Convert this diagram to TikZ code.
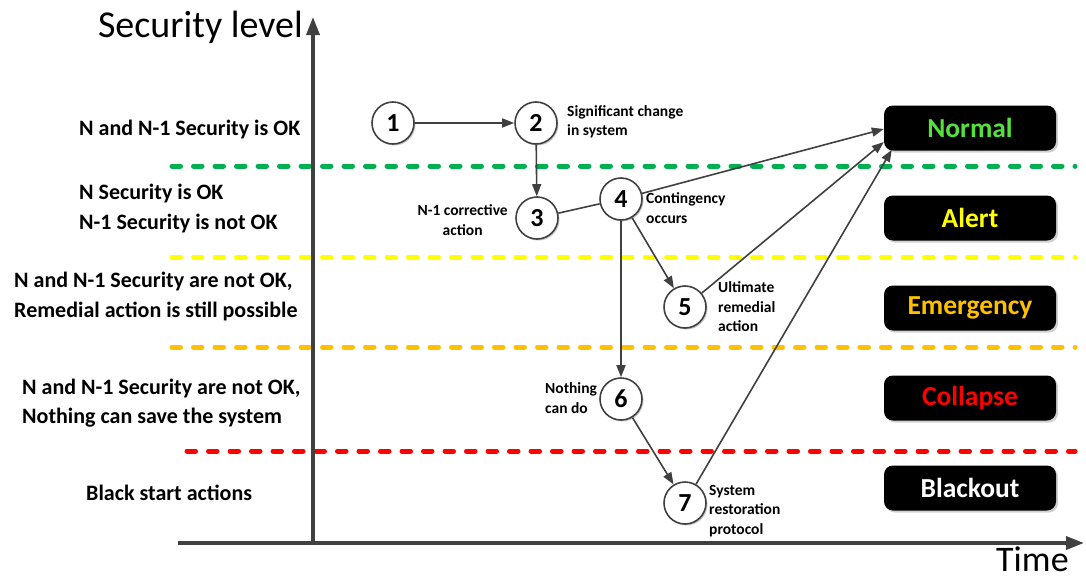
\documentclass[tikz,border=0pt]{standalone}
\usepackage{fontspec}
\setmainfont{Carlito}
\usetikzlibrary{arrows.meta,shadows,calc}
\definecolor{ln}{RGB}{64,64,64}
\definecolor{dgreen}{RGB}{0,176,80}
\definecolor{dyellow}{RGB}{255,255,0}
\definecolor{dorange}{RGB}{255,192,0}
\definecolor{dred}{RGB}{255,0,0}
\definecolor{tgreen}{RGB}{85,225,60}
\tikzset{
  statecirc/.style={circle,draw=ln,line width=1.6pt,fill=white,minimum size=42pt,inner sep=0pt,
    font=\fontsize{26}{28}\selectfont\bfseries,
    drop shadow={shadow xshift=1.5pt,shadow yshift=-1.5pt,fill=black!35,opacity=0.6}},
  statebox/.style={rounded corners=9pt,fill=black,minimum width=172pt,minimum height=45pt,
    font=\fontsize{27.5}{29}\selectfont\bfseries,
    drop shadow={shadow xshift=2pt,shadow yshift=-2pt,fill=black!30,opacity=0.6}},
  conn/.style={draw=ln,line width=1.6pt},
  arr/.style={conn,-{Triangle[length=12pt,width=9pt]}},
  axis/.style={draw=ln,line width=3.5pt},
  level/.style={line width=5pt,line cap=round,dash pattern=on 8.5pt off 13pt},
  lefttxt/.style={anchor=west,align=left,font=\fontsize{22}{30}\selectfont\bfseries,inner sep=0pt},
  smalltxt/.style={align=left,font=\fontsize{15.5}{19.5}\selectfont\bfseries,inner sep=0pt},
}
\begin{document}
\begin{tikzpicture}[x=1pt,y=-1pt]
\useasboundingbox (0,0) rectangle (1086,581);
% level lines
\draw[level,draw=dgreen] (172,166) -- (1075,166);
\draw[level,draw=dyellow] (172,257) -- (1075,257);
\draw[level,draw=dorange] (172,347) -- (1075,347);
\draw[level,draw=dred] (187,451) -- (1075,451);
% axes
\coordinate (yb) at (313,543);
\coordinate (yt) at (313,17);
\coordinate (xl) at (178,543);
\coordinate (xr) at (1084,543);
\draw[axis,-{Triangle[length=18pt,width=13pt]}] (yb) -- (yt);
\draw[axis,-{Triangle[length=18pt,width=13pt]}] (xl) -- (xr);
\node[anchor=east,inner sep=0pt,font=\fontsize{38}{40}\selectfont] (ylab) at (303,27) {Security level};
\node[anchor=west,inner sep=0pt,font=\fontsize{36}{40}\selectfont] (xlab) at (996,559) {Time};
% left labels
\node[lefttxt] (l1) at (79,130) {N and N-1 Security is OK};
\node[lefttxt] (l2) at (79,209) {N Security is OK\\N-1 Security is not OK};
\node[lefttxt] (l3) at (14,297) {N and N-1 Security are not OK,\\Remedial action is still possible};
\node[lefttxt,font=\fontsize{22}{28.5}\selectfont\bfseries] (l4) at (22,403) {N and N-1 Security are not OK,\\Nothing can save the system};
\node[lefttxt] (l5) at (86,493) {Black start actions};
% state boxes
\node[statebox,text=tgreen] (normal) at (970,128) {Normal};
\node[statebox,text=dyellow] (alert) at (970,218) {Alert};
\node[statebox,text=dorange] (emerg) at (970,308) {Emergency};
\node[statebox,text=dred] (collapse) at (970,398) {Collapse};
\node[statebox,text=white] (blackout) at (970,488) {Blackout};
% circles
\node[statecirc] (n1) at (393,123) {1};
\node[statecirc] (n2) at (536,123) {2};
\node[statecirc] (n3) at (537,218) {3};
\node[statecirc] (n4) at (621,199) {4};
\node[statecirc] (n5) at (685,307) {5};
\node[statecirc] (n6) at (621,399) {6};
\node[statecirc] (n7) at (685,503) {7};
% small labels
\node[smalltxt,anchor=west] (t2) at (567,122) {Significant change\\in system};
\node[smalltxt,align=center,anchor=east] (t3) at (508,220) {N-1 corrective\\action};
\node[smalltxt,anchor=west] (t4) at (646,208) {Contingency\\occurs};
\node[smalltxt,anchor=west] (t5) at (718,307) {Ultimate\\remedial\\action};
\node[smalltxt,anchor=west] (t6) at (545,398) {Nothing\\can do};
\node[smalltxt,anchor=west] (t7) at (709,511) {System\\restoration\\protocol};
% connectors
\draw[arr] (n1) -- (n2);
\draw[arr] (n2) -- (n3);
\draw[conn] (n3) -- (n4);
\draw[arr] (n4) -- ([yshift=-1pt]normal.west);
\draw[arr] (n4) -- (n5);
\draw[arr] (n4) -- (n6);
\draw[arr] (n5) -- ([yshift=-14pt]normal.west);
\draw[arr] (n6) -- (n7);
\draw[arr] (n7) -- ([xshift=8pt,yshift=1pt]normal.south west);
\end{tikzpicture}
\end{document}
